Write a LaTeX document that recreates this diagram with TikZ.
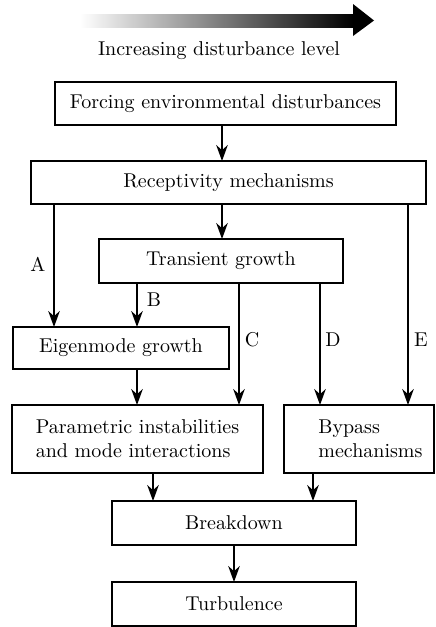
\documentclass[tikz,border=0pt]{standalone}
\usetikzlibrary{arrows.meta}
\begin{document}
\begin{tikzpicture}[x=0.5pt,y=-0.5pt,
  box/.style={draw,line width=0.65pt,rectangle,inner sep=0pt,outer sep=0pt,font=\normalsize},
  arr/.style={draw,line width=0.6pt,-{Stealth[length=8pt,width=5.8pt,inset=2.6pt]}},
  lbl/.style={inner sep=0pt,font=\normalsize}]
\useasboundingbox (0,0) rectangle (435,627);
% gradient arrow
\shade[left color=white,right color=black,draw=none] (80,14) rectangle (353,27);
\fill[black] (353,4) -- (374,20.5) -- (353,36) -- cycle;
\node[lbl] (title) at (219,51) {Increasing disturbance level};
% boxes
\node[box,minimum width=170.5pt,minimum height=21.5pt] (forcing) at (225.5,103.5) {Forcing environmental disturbances};
\node[box,minimum width=197.5pt,minimum height=21.5pt] (recept) at (228.5,182.5) {Receptivity mechanisms};
\node[box,minimum width=122pt,minimum height=22pt] (transient) at (221,261) {Transient growth};
\node[box,minimum width=108pt,minimum height=21pt] (eigen) at (121,348) {Eigenmode growth};
\node[box,minimum width=125.5pt,minimum height=34pt,align=left] (param) at (137.5,439) {Parametric instabilities\\and mode interactions};
\node[box,minimum width=75pt,minimum height=34pt] (bypass) at (359,439) {};
\node[lbl,align=left,anchor=west] (bypasstext) at (318,439) {Bypass\\mechanisms};
\node[box,minimum width=122pt,minimum height=22pt] (breakdown) at (234,523) {Breakdown};
\node[box,minimum width=122pt,minimum height=22pt] (turb) at (234,604) {Turbulence};
% x positions
\coordinate (x222) at (222,0);
\coordinate (xA) at (54,0);
\coordinate (xB) at (137,0);
\coordinate (xC) at (239,0);
\coordinate (xD) at (320,0);
\coordinate (xE) at (408,0);
\coordinate (xP) at (153,0);
\coordinate (xQ) at (313,0);
\coordinate (xT) at (234,0);
% connectors
\draw[arr] (forcing.south -| x222) -- (recept.north -| x222);
\draw[arr] (recept.south -| x222) -- (transient.north -| x222);
\draw[arr] (recept.south -| xA) -- (eigen.north -| xA);
\draw[arr] (transient.south -| xB) -- (eigen.north -| xB);
\draw[arr] (eigen.south -| xB) -- (param.north -| xB);
\draw[arr] (transient.south -| xC) -- (param.north -| xC);
\draw[arr] (transient.south -| xD) -- (bypass.north -| xD);
\draw[arr] (recept.south -| xE) -- (bypass.north -| xE);
\draw[arr] (param.south -| xP) -- (breakdown.north -| xP);
\draw[arr] (bypass.south -| xQ) -- (breakdown.north -| xQ);
\draw[arr] (breakdown.south -| xT) -- (turb.north -| xT);
% labels
\node[lbl] (la) at (38,264) {A};
\node[lbl] (lb) at (154,300) {B};
\node[lbl] (lc) at (252,340) {C};
\node[lbl] (ld) at (333,340) {D};
\node[lbl] (le) at (421,340) {E};
\end{tikzpicture}
\end{document}
